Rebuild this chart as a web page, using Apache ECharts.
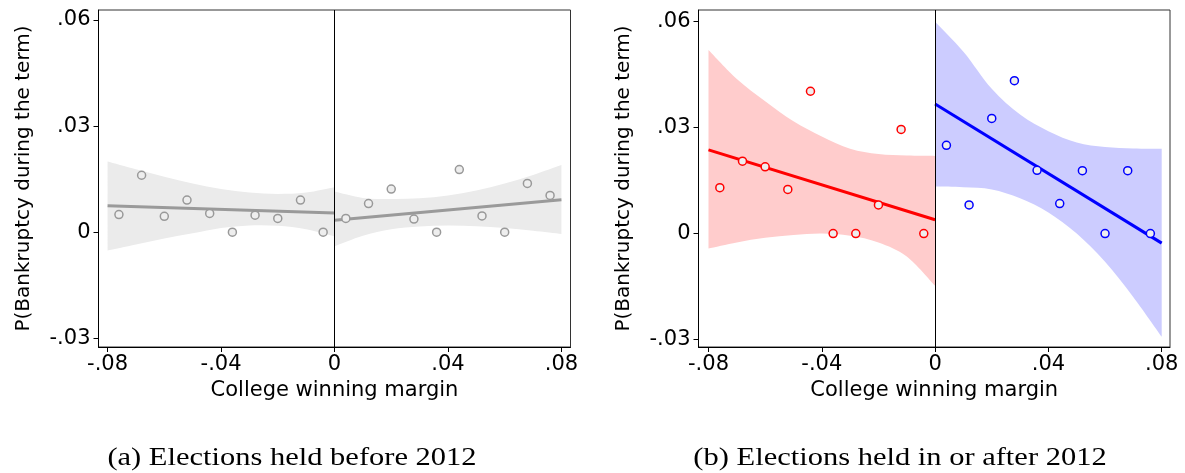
<!DOCTYPE html>
<html><head><meta charset="utf-8">
<script src="https://cdn.jsdelivr.net/npm/echarts@6/dist/echarts.min.js"></script>
<style>html,body{margin:0;padding:0;background:#fff}#c{width:1185px;height:473px}</style>
</head><body><div id="c"></div>
<script>
// ---------- tick labels ----------
const xTickValues = [-0.08, -0.04, 0, 0.04, 0.08];
const xTickLabels = ['-.08', '-.04', '0', '.04', '.08'];
const yTickValues = [-0.03, 0, 0.03, 0.06];
const yTickLabels = ['-.03', '0', '.03', '.06'];

// ---------- bin centres ----------
const binsBelow = [-0.076, -0.068, -0.060, -0.052, -0.044, -0.036, -0.028, -0.020, -0.012, -0.004];
const binsAbove = [0.004, 0.012, 0.020, 0.028, 0.036, 0.044, 0.052, 0.060, 0.068, 0.076];

// ---------- panel (a): before 2012 ----------
const aMeansBelow = [0.0050, 0.0161, 0.0045, 0.0091, 0.0053, 0.0000, 0.0048, 0.0039, 0.0091, 0.0000];
const aMeansAbove = [0.0039, 0.0081, 0.0122, 0.0037, 0.0000, 0.0177, 0.0046, 0.0000, 0.0138, 0.0104];
const aFitBelow = [0.0075, 0.0054];   // at x = -0.08, 0
const aFitAbove = [0.0034, 0.0092];   // at x = 0, 0.08

// ---------- panel (b): 2012 and after ----------
const bMeansBelow = [0.0130, 0.0205, 0.0189, 0.0125, 0.0403, 0.0000, 0.0000, 0.0081, 0.0295, 0.0000];
const bMeansAbove = [0.0250, 0.0081, 0.0326, 0.0433, 0.0179, 0.0085, 0.0178, 0.0000, 0.0178, 0.0000];
const bFitBelow = [0.0237, 0.0039];
const bFitAbove = [0.0367, -0.0027];

// ---------- confidence bands ----------
const bandXBelow = [-0.08, -0.07, -0.06, -0.05, -0.04, -0.03, -0.02, -0.01, 0];
const bandXAbove = [0, 0.01, 0.02, 0.03, 0.04, 0.05, 0.06, 0.07, 0.08];
const aUpperBelow = [0.0200, 0.0178, 0.0157, 0.0138, 0.0122, 0.0112, 0.0108, 0.0112, 0.0127];
const aLowerBelow = [-0.0052, -0.0035, -0.0018, -0.0003, 0.0012, 0.0019, 0.0018, 0.0008, -0.0012];
const aUpperAbove = [0.0115, 0.0097, 0.0094, 0.0096, 0.0104, 0.0118, 0.0138, 0.0162, 0.0190];
const aLowerAbove = [-0.0040, -0.0010, 0.0008, 0.0016, 0.0019, 0.0017, 0.0012, 0.0004, -0.0005];
const bUpperBelow = [0.0520, 0.0438, 0.0375, 0.0318, 0.0275, 0.0240, 0.0225, 0.0221, 0.0220];
const bLowerBelow = [-0.0042, -0.0025, -0.0012, -0.0004, 0.0000, -0.0006, -0.0025, -0.0065, -0.0148];
const bUpperAbove = [0.0600, 0.0515, 0.0410, 0.0337, 0.0290, 0.0258, 0.0245, 0.0241, 0.0240];
const bLowerAbove = [0.0133, 0.0131, 0.0125, 0.0100, 0.0060, 0.0000, -0.0080, -0.0180, -0.0292];

const captions = ['(a) Elections held before 2012', '(b) Elections held in or after 2012'];
const xTitle = 'College winning margin';
const yTitle = 'P(Bankruptcy during the term)';

const FONT = 'DejaVu Sans';

function fmt(values, labels) {
  return function (v) {
    for (let i = 0; i < values.length; i++) if (Math.abs(v - values[i]) < 1e-9) return labels[i];
    return '';
  };
}

function xAxisCfg(gi, min, max) {
  return {
    type: 'value', gridIndex: gi, min: min, max: max,
    axisLine: { show: true, onZero: false, lineStyle: { color: '#000', width: 1 } },
    axisTick: { show: true, length: 5, inside: false, customValues: xTickValues, lineStyle: { color: '#000' } },
    axisLabel: { show: true, customValues: xTickValues, formatter: fmt(xTickValues, xTickLabels),
      color: '#000', fontSize: 21, fontFamily: FONT, margin: 7 },
    splitLine: { show: false },
    name: xTitle, nameLocation: 'middle', nameGap: 31,
    nameTextStyle: { color: '#000', fontSize: 21, fontFamily: FONT }
  };
}
function yAxisCfg(gi, min, max) {
  return {
    type: 'value', gridIndex: gi, min: min, max: max,
    axisLine: { show: true, onZero: false, lineStyle: { color: '#000', width: 1 } },
    axisTick: { show: true, length: 5, customValues: yTickValues, lineStyle: { color: '#000' } },
    axisLabel: { show: true, customValues: yTickValues, formatter: fmt(yTickValues, yTickLabels),
      color: '#000', fontSize: 21, fontFamily: FONT, margin: 8 },
    splitLine: { show: false },
    name: yTitle, nameLocation: 'middle', nameGap: 65, nameRotate: 90,
    nameTextStyle: { color: '#000', fontSize: 20, fontFamily: FONT }
  };
}

// smooth edge (Catmull-Rom rendered as cubic Bezier) through given pixel points
function smoothPath(pts, moveFirst) {
  let d = (moveFirst ? 'M' : 'L') + pts[0][0] + ' ' + pts[0][1];
  for (let i = 0; i < pts.length - 1; i++) {
    const p0 = pts[Math.max(i - 1, 0)], p1 = pts[i], p2 = pts[i + 1], p3 = pts[Math.min(i + 2, pts.length - 1)];
    const c1x = p1[0] + (p2[0] - p0[0]) / 6, c1y = p1[1] + (p2[1] - p0[1]) / 6;
    const c2x = p2[0] - (p3[0] - p1[0]) / 6, c2y = p2[1] - (p3[1] - p1[1]) / 6;
    d += ' C' + c1x + ' ' + c1y + ' ' + c2x + ' ' + c2y + ' ' + p2[0] + ' ' + p2[1];
  }
  return d;
}

function band(gi, xs, up, lo, color) {
  return {
    type: 'custom', xAxisIndex: gi, yAxisIndex: gi, silent: true, clip: true, z: 1,
    data: [[xs[0], up[0]]],
    renderItem: function (params, api) {
      const top = xs.map((x, i) => api.coord([x, up[i]]));
      const bot = xs.map((x, i) => api.coord([x, lo[i]])).reverse();
      const d = smoothPath(top, true) + ' ' + smoothPath(bot, false) + ' Z';
      return { type: 'path', shape: { pathData: d }, style: { fill: color, stroke: null } };
    }
  };
}
function fit(gi, x0, x1, ys, color) {
  return {
    type: 'line', xAxisIndex: gi, yAxisIndex: gi, silent: true, z: 3, symbol: 'none',
    data: [[x0, ys[0]], [x1, ys[1]]],
    lineStyle: { color: color, width: 3 }
  };
}
function dots(gi, xs, ys, stroke) {
  return {
    type: 'scatter', xAxisIndex: gi, yAxisIndex: gi, silent: true, z: 4,
    symbol: 'circle', symbolSize: 8,
    data: xs.map((x, i) => [x, ys[i]]),
    itemStyle: { color: '#eeeeee', borderColor: stroke, borderWidth: 1.5, opacity: 1 }
  };
}
function zeroLine(gi) {
  return {
    type: 'line', xAxisIndex: gi, yAxisIndex: gi, silent: true, z: 2, data: [],
    markLine: { silent: true, symbol: ['none', 'none'], label: { show: false },
      lineStyle: { color: '#000', width: 1, type: 'solid' }, data: [{ xAxis: 0 }], animation: false }
  };
}

const option = {
  animation: false,
  backgroundColor: '#fff',
  grid: [
    { left: 98.5, top: 10, width: 472, height: 337, show: true, borderColor: '#333', borderWidth: 1, backgroundColor: 'transparent' },
    { left: 698.5, top: 10, width: 471.5, height: 337, show: true, borderColor: '#333', borderWidth: 1, backgroundColor: 'transparent' }
  ],
  xAxis: [xAxisCfg(0, -0.0832, 0.0832), xAxisCfg(1, -0.08353, 0.08293)],
  yAxis: [yAxisCfg(0, -0.03246, 0.06283), yAxisCfg(1, -0.03212, 0.06331)],
  series: [
    band(0, bandXBelow, aUpperBelow, aLowerBelow, '#ebebeb'),
    band(0, bandXAbove, aUpperAbove, aLowerAbove, '#ebebeb'),
    zeroLine(0),
    fit(0, -0.08, 0, aFitBelow, '#9a9a9a'),
    fit(0, 0, 0.08, aFitAbove, '#9a9a9a'),
    dots(0, binsBelow, aMeansBelow, '#999999'),
    dots(0, binsAbove, aMeansAbove, '#999999'),
    band(1, bandXBelow, bUpperBelow, bLowerBelow, '#ffcccc'),
    band(1, bandXAbove, bUpperAbove, bLowerAbove, '#ccccff'),
    zeroLine(1),
    fit(1, -0.08, 0, bFitBelow, '#ff0000'),
    fit(1, 0, 0.08, bFitAbove, '#0000ff'),
    dots(1, binsBelow, bMeansBelow, '#ff0000'),
    dots(1, binsAbove, bMeansAbove, '#0000ff')
  ],
  graphic: [
    { type: 'text', x: 292, y: 458, scaleX: 1.22, silent: true,
      style: { text: captions[0], fill: '#000', font: '25px "Liberation Serif"', textAlign: 'center', textVerticalAlign: 'middle' } },
    { type: 'text', x: 900, y: 458, scaleX: 1.22, silent: true,
      style: { text: captions[1], fill: '#000', font: '25px "Liberation Serif"', textAlign: 'center', textVerticalAlign: 'middle' } }
  ]
};

const chart = echarts.init(document.getElementById('c'), null, { renderer: 'canvas' });
chart.setOption(option);
</script></body></html>
